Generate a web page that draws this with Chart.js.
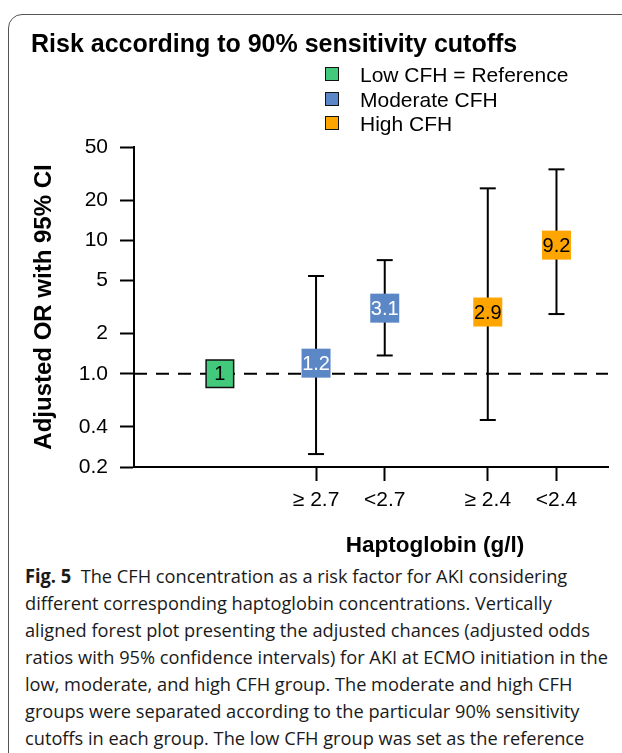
<!DOCTYPE html>
<html>
<head>
<meta charset="utf-8">
<script src="https://cdn.jsdelivr.net/npm/chart.js@4.4.1/dist/chart.umd.min.js"></script>
<style>
  html, body { margin: 0; padding: 0; background: #fff; }
  body { width: 622px; height: 753px; position: relative; overflow: hidden;
         font-family: "Liberation Sans", Arial, sans-serif; color: #000; }
  #frame { position: absolute; left: 8px; top: 14px; width: 700px; height: 800px;
           border: 1.5px solid #555; border-radius: 14px; }
  #plot { position: absolute; left: 0; top: 0; }
  #title { position: absolute; left: 31px; top: 29px; font-size: 25px; line-height: 28px; font-weight: bold; }
  #legend { position: absolute; left: 325px; top: 63px; font-size: 21px; }
  #legend .row { height: 24.5px; line-height: 24.5px; white-space: nowrap; }
  #legend .sw { display: inline-block; width: 12px; height: 12px; border: 1.5px solid #111;
                vertical-align: middle; margin-right: 21px; position: relative; top: -2px; }
  #xtitle { position: absolute; left: 335px; width: 200px; top: 532px; text-align: center;
            font-size: 22.5px; line-height: 26px; font-weight: bold; }
  #caption { position: absolute; left: 25px; top: 563px; transform-origin: 0 0;
             font-family: "Open Sans", "Noto Sans", sans-serif; font-size: 19px; color: #1a1a1a; }
  #caption span { display: block; white-space: nowrap; line-height: 27px; width: max-content; }
</style>
</head>
<body>
<div id="frame"></div>
<!-- a little wider than the page: chart.js keeps half the last tick label as right margin -->
<canvas id="plot" width="629" height="560"></canvas>
<div id="title">Risk according to 90% sensitivity cutoffs</div>
<div id="legend"></div>
<div id="xtitle">Haptoglobin (g/l)</div>
<div id="caption">
  <span><b>Fig. 5</b>&nbsp; The CFH concentration as a risk factor for AKI considering</span>
  <span>different corresponding haptoglobin concentrations. Vertically</span>
  <span>aligned forest plot presenting the adjusted chances (adjusted odds</span>
  <span id="capRef">ratios with 95% confidence intervals) for AKI at ECMO initiation in the</span>
  <span>low, moderate, and high CFH group. The moderate and high CFH</span>
  <span>groups were separated according to the particular 90% sensitivity</span>
  <span>cutoffs in each group. The low CFH group was set as the reference</span>
</div>
<script>
// groups and colours
const groupNames = ["Low CFH = Reference", "Moderate CFH", "High CFH"];
const groupColors = ["#43C97B", "#5C87C6", "#FFA500"];
const groupBorders = [1.5, 0, 0];

// one entry per estimate
const xLabels = ["", "≥ 2.7", "<2.7", "≥ 2.4", "<2.4"];
const xValues = [1, 2.4, 3.4, 4.9, 5.9];
const pointGroup = [0, 1, 1, 2, 2];
const oddsRatio = [1, 1.2, 3.1, 2.9, 9.2];
const ciLower = [null, 0.25, 1.37, 0.45, 2.8];
const ciUpper = [null, 5.4, 7.1, 24.5, 34];
const labelColors = ["#000", "#fff", "#fff", "#000", "#000"];

// axes
const xMin = -0.25, xMax = 6.65;
const yTicks = [0.2, 0.4, 1, 2, 5, 10, 20, 50];
const yTickLabels = ["0.2", "0.4", "1.0", "2", "5", "10", "20", "50"];
const refLine = 1;

const FONT = '"Liberation Sans", Arial, sans-serif';

// legend
const legendEl = document.getElementById("legend");
groupNames.forEach((name, i) => {
  const row = document.createElement("div");
  row.className = "row";
  const sw = document.createElement("span");
  sw.className = "sw";
  sw.style.background = groupColors[i];
  row.appendChild(sw);
  row.appendChild(document.createTextNode(name));
  legendEl.appendChild(row);
});

// squeeze caption to the width of the journal text
const cap = document.getElementById("caption");
const k = 583 / document.getElementById("capRef").getBoundingClientRect().width;
cap.style.transform = "scaleX(" + k + ")";

const boxes = {
  data: xValues.map((x, i) => ({ x: x, y: oddsRatio[i] })),
  pointStyle: "rect",
  pointRadius: pointGroup.map(g => (g === 0 ? 19.5 : 20.5)),
  pointBackgroundColor: pointGroup.map(g => groupColors[g]),
  pointBorderColor: "#111",
  pointBorderWidth: pointGroup.map(g => groupBorders[g]),
  showLine: false,
};

const errorBars = [];
xValues.forEach((x, i) => {
  if (ciLower[i] == null) return;
  errorBars.push({
    data: [{ x: x, y: ciLower[i] }, { x: x, y: ciUpper[i] }],
    showLine: true,
    borderColor: "#000",
    borderWidth: 2,
    pointStyle: "line",
    pointRadius: 8,
    pointBorderWidth: 2,
    pointBorderColor: "#000",
  });
});

const dashed = {
  data: [{ x: xMin, y: refLine }, { x: xMax, y: refLine }],
  showLine: true,
  borderColor: "#000",
  borderWidth: 2,
  borderDash: [13, 9],
  pointRadius: 0,
};

const boxLabels = {
  id: "boxLabels",
  afterDatasetsDraw(chart) {
    const c = chart.ctx;
    const meta = chart.getDatasetMeta(0);
    c.save();
    c.font = "20px " + FONT;
    c.textAlign = "center";
    c.textBaseline = "middle";
    meta.data.forEach((pt, i) => {
      c.fillStyle = labelColors[i];
      c.fillText(String(oddsRatio[i]), pt.x, pt.y + 1);
    });
    c.restore();
  },
};

const xTickValues = xValues.filter((v, i) => xLabels[i] !== "");
const xTickText = xLabels.filter(l => l !== "");

new Chart(document.getElementById("plot").getContext("2d"), {
  type: "scatter",
  data: { datasets: [boxes, ...errorBars, dashed] },
  options: {
    responsive: false,
    animation: false,
    events: [],
    layout: { padding: { top: 147, right: 13, left: 0, bottom: 0 } },
    plugins: { legend: { display: false }, tooltip: { enabled: false } },
    scales: {
      x: {
        type: "linear",
        min: xMin,
        max: xMax,
        afterBuildTicks: s => { s.ticks = xTickValues.map(v => ({ value: v })); },
        afterFit: s => { s.height = 93; },
        ticks: {
          callback: (v, i) => xTickText[i],
          font: { family: FONT, size: 21 },
          color: "#000",
          padding: 7,
          maxRotation: 0,
          autoSkip: false,
        },
        grid: { drawOnChartArea: false, tickLength: 14, tickWidth: 2, tickColor: "#000" },
        border: { color: "#000", width: 2 },
      },
      y: {
        type: "logarithmic",
        min: 0.2,
        max: 50,
        afterBuildTicks: s => { s.ticks = yTicks.map(v => ({ value: v })); },
        afterFit: s => { s.width = 134; },
        ticks: {
          callback: (v, i) => yTickLabels[i],
          font: { family: FONT, size: 21 },
          color: "#000",
          padding: 12,
          autoSkip: false,
        },
        title: {
          display: true,
          text: "Adjusted OR with 95% CI",
          font: { family: FONT, size: 24, weight: "bold" },
          color: "#000",
          padding: { top: 30, bottom: 0 },
        },
        grid: { drawOnChartArea: false, tickLength: 14, tickWidth: 2, tickColor: "#000" },
        border: { color: "#000", width: 2 },
      },
    },
  },
  plugins: [boxLabels],
});
</script>
</body>
</html>
